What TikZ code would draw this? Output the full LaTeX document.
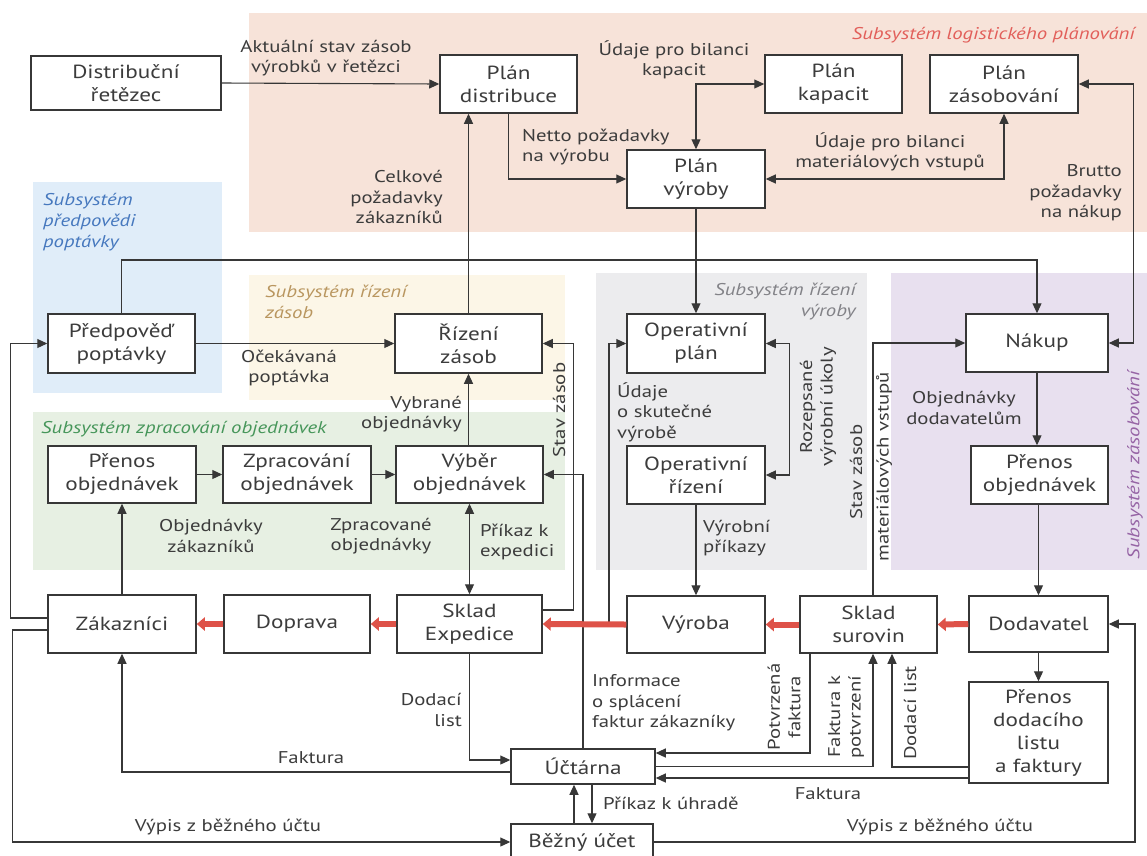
\documentclass[tikz,border=0pt]{standalone}
\usepackage{fontspec}
\setmainfont{PT Sans}[FakeStretch=1.22]
\usetikzlibrary{arrows.meta,calc}
\definecolor{salmonc}{RGB}{247,227,217}
\definecolor{bluec}{RGB}{224,237,249}
\definecolor{yellowc}{RGB}{252,246,231}
\definecolor{greenc}{RGB}{231,240,227}
\definecolor{grayc}{RGB}{236,236,238}
\definecolor{purplec}{RGB}{232,224,239}
\definecolor{linec}{RGB}{55,55,55}
\definecolor{textc}{RGB}{60,60,60}
\definecolor{redc}{RGB}{222,82,72}
\definecolor{sred}{RGB}{226,95,90}
\definecolor{sblue}{RGB}{70,120,190}
\definecolor{stan}{RGB}{185,150,95}
\definecolor{sgreen}{RGB}{70,150,90}
\definecolor{sgray}{RGB}{130,130,135}
\definecolor{spurple}{RGB}{150,100,165}
\newcommand\boxfont{\fontsize{19}{23}\selectfont}
\newcommand\lblfont{\fontsize{17}{20.5}\selectfont}
\newcommand\subfont{\fontsize{17}{21}\selectfont\itshape}
\tikzset{
  box/.style={draw=linec, fill=white, line width=1.5pt, align=center, font=\boxfont, text=textc, inner sep=0pt},
  lbl/.style={font=\lblfont, text=textc, inner sep=0pt, align=center},
  sub/.style={font=\subfont, inner sep=0pt},
  conn/.style={draw=linec, line width=1.1pt},
  arr/.style={conn, -{Triangle[length=10pt,width=9pt]}},
  darr/.style={conn, {Triangle[length=10pt,width=9pt]}-{Triangle[length=10pt,width=9pt]}},
  redarr/.style={draw=redc, line width=6pt, -{Triangle[length=8pt,width=13pt]}}
}
\begin{document}
\begin{tikzpicture}[x=1pt,y=-1pt]
\useasboundingbox (0,0) rectangle (1147,855);
\clip (0,0) rectangle (1147,855);
\fill[white] (0,0) rectangle (1147,855);
% backgrounds
\fill[salmonc] (249,13) rectangle (1147,232);
\fill[bluec] (33,182) rectangle (222,393);
\fill[yellowc] (249,275) rectangle (565,400);
\fill[greenc] (33,412) rectangle (565,570);
\fill[grayc] (596,273) rectangle (867,570);
\fill[purplec] (891,273) rectangle (1147,570);
% subsystem labels
\node[sub, text=sred, anchor=east] (s1) at (1135,35) {Subsystém logistického plánování};
\node[sub, text=sblue, anchor=west, align=left] (s2) at (43,222) {Subsystém\\předpovědi\\poptávky};
\node[sub, text=stan, anchor=west, align=left] (s3) at (265,302) {Subsystém řízení\\zásob};
\node[sub, text=sgreen, anchor=west] (s4) at (41,429) {Subsystém zpracování objednávek};
\node[sub, text=sgray, anchor=east, align=right] (s5) at (856,302) {Subsystém řízení\\výroby};
\node[sub, text=spurple, rotate=90] (s6) at (1135,465) {Subsystém zásobování};
% boxes
\node[box, minimum width=190, minimum height=54] (dist) at (126,83) {Distribuční\\řetězec};
\node[box, minimum width=137, minimum height=58] (pdist) at (508.5,84) {Plán\\distribuce};
\node[box, minimum width=137, minimum height=58] (pkap) at (833.5,84) {Plán\\kapacit};
\node[box, minimum width=148, minimum height=58] (pzas) at (1004,84) {Plán\\zásobování};
\node[box, minimum width=138, minimum height=58] (pvyr) at (696,179) {Plán\\výroby};
\node[box, minimum width=147, minimum height=59] (pred) at (121.5,343.5) {Předpověď\\poptávky};
\node[box, minimum width=147, minimum height=59] (rizz) at (468.5,343.5) {Řízení\\zásob};
\node[box, minimum width=138, minimum height=59] (opplan) at (696,343.5) {Operativní\\plán};
\node[box, minimum width=142, minimum height=58] (nakup) at (1037,343) {Nákup};
\node[box, minimum width=148, minimum height=57] (prenL) at (122,474.5) {Přenos\\objednávek};
\node[box, minimum width=148, minimum height=57] (zprac) at (297,474.5) {Zpracování\\objednávek};
\node[box, minimum width=147, minimum height=57] (vyber) at (469.5,474.5) {Výběr\\objednávek};
\node[box, minimum width=138, minimum height=58] (opriz) at (696,475) {Operativní\\řízení};
\node[box, minimum width=137, minimum height=58] (prenR) at (1039.5,475) {Přenos\\objednávek};
\node[box, minimum width=148, minimum height=58] (zak) at (122,624) {Zákazníci};
\node[box, minimum width=146, minimum height=58] (dopr) at (297,624) {Doprava};
\node[box, minimum width=145, minimum height=58] (skexp) at (469.5,624) {Sklad\\Expedice};
\node[box, minimum width=138, minimum height=57] (vyroba) at (696,624.5) {Výroba};
\node[box, minimum width=137, minimum height=57] (sksur) at (868.5,624.5) {Sklad\\surovin};
\node[box, minimum width=139, minimum height=56] (dodav) at (1038.5,624) {Dodavatel};
\node[box, minimum width=139, minimum height=101] (prendod) at (1038.5,732.5) {Přenos\\dodacího\\listu\\a faktury};
\node[box, minimum width=144, minimum height=35] (uctarna) at (583,766.5) {Účtárna};
\node[box, minimum width=142, minimum height=36] (bezny) at (582,842) {Běžný účet};
% connector helper coordinates
\coordinate (vyrL) at (609,623);
% connectors
\draw[arr] (dist.east) -- (pdist.west);
\draw[arr] (pdist.south) |- (pvyr.west);
\draw[darr] (pvyr.north) |- (pkap.west);
\draw[darr] (pvyr.east) -| (pzas.south);
\draw[darr] (pzas.east) -- ++(55,0) |- (nakup.east);
\draw[arr] (rizz.north) -- (rizz.north |- pdist.south);
\draw[arr] (pvyr.south) -- (opplan.north);
\draw[arr] (pred.north) -- (pred.north |- 0,260) -| (nakup.north);
\draw[arr] (pred.east) -- (rizz.west);
\draw[arr] (vyber.north -| rizz.south) -- (rizz.south);
\draw[arr] (prenL.east) -- (zprac.west);
\draw[arr] (zprac.east) -- (vyber.west);
\draw[arr] (zak.north) -- (prenL.south);
\draw[darr] (vyber.south) -- (skexp.north);
\draw[arr] ([yshift=14pt]skexp.east) -- ++(31,0) |- (rizz.east);
\draw[arr] (uctarna.north) |- (vyber.east);
\draw[arr] (vyrL) |- (opplan.west);
\draw[darr] (opplan.east) -- ++(24,0) |- (opriz.east);
\draw[arr] (opriz.south) -- (vyroba.north);
\draw[arr] ([xshift=4.5pt]sksur.north) |- (nakup.west);
\draw[arr] (nakup.south) -- (nakup.south |- prenR.north);
\draw[arr] (prenR.south -| dodav.north) -- (dodav.north);
\draw[arr] (dodav.south) -- (prendod.north);
\draw[redarr] (dodav.west) -- (sksur.east);
\draw[redarr] (sksur.west) -- (vyroba.east);
\draw[redarr] (vyroba.west) -- (skexp.east);
\draw[redarr] (skexp.west) -- (dopr.east);
\draw[redarr] (dopr.west) -- (zak.east);
\draw[arr] (skexp.south) |- ([yshift=6.5pt]uctarna.west);
\draw[arr] ([yshift=-5.5pt]uctarna.west) -| (zak.south);
\draw[arr] ([yshift=6pt]zak.west) -- ++(-37,0) |- (pred.west);
\draw[arr] ([yshift=-6pt]zak.west) -- ++(-35,0) |- (bezny.west);
\draw[arr] (bezny.east) -- (bezny.east -| 1135,0) |- (dodav.east);
\draw[arr] ([xshift=-8pt]bezny.north) -- ([xshift=-8pt]bezny.north |- uctarna.south);
\draw[arr] ([xshift=9pt]uctarna.south) -- ([xshift=9pt]uctarna.south |- bezny.north);
\draw[arr] ([xshift=-58.5pt]sksur.south) |- ([yshift=13.5pt]uctarna.east);
\draw[arr] (uctarna.east) -| ([xshift=4.5pt]sksur.south);
\draw[arr] ([yshift=-34.5pt]prendod.west) -| ([xshift=23.5pt]sksur.south);
\draw[arr] ([yshift=-45.5pt]prendod.west) -- (uctarna.east |- 0,778);
% labels
\node[lbl] (l1) at (326,58) {Aktuální stav zásob\\výrobků v řetězci};
\node[lbl] (l2) at (674,60) {Údaje pro bilanci\\kapacit};
\node[lbl, anchor=west, align=left] (l3) at (522,147) {Netto požadavky\\na výrobu};
\node[lbl] (l4) at (890,152) {Údaje pro bilanci\\materiálových vstupů};
\node[lbl, anchor=east, align=right] (l5) at (1122,193) {Brutto\\požadavky\\na nákup};
\node[lbl, anchor=east, align=right] (l6) at (443,197) {Celkové\\požadavky\\zákazníků};
\node[lbl] (l7) at (289,368) {Očekávaná\\poptávka};
\node[lbl, anchor=east, align=right] (l8) at (462,414) {Vybrané\\objednávky};
\node[lbl] (l9) at (211,536) {Objednávky\\zákazníků};
\node[lbl] (l10) at (381,536) {Zpracované\\objednávky};
\node[lbl, anchor=west, align=left] (l11) at (480,542) {Příkaz k\\expedici};
\node[lbl, rotate=90] (l12) at (559,410) {Stav zásob};
\node[lbl, anchor=west, align=left] (l13) at (617,412) {Údaje\\o skutečné\\výrobě};
\node[lbl, rotate=90] (l14) at (818,407) {Rozepsané\\výrobní úkoly};
\node[lbl, anchor=west, align=left] (l15) at (703,538) {Výrobní\\příkazy};
\node[lbl, rotate=90] (l16) at (856,472) {Stav zásob};
\node[lbl, rotate=90] (l17) at (884,467) {materiálových vstupů};
\node[lbl] (l18) at (964,408) {Objednávky\\dodavatelům};
\node[lbl, anchor=east, align=right] (l19) at (462,710) {Dodací\\list};
\node[lbl, anchor=west, align=left] (l20) at (592,703) {Informace\\o splácení\\faktur zákazníky};
\node[lbl, rotate=90] (l21) at (784,707) {Potvrzená\\faktura};
\node[lbl, rotate=90] (l22) at (846,717) {Faktura k\\potvrzení};
\node[lbl, rotate=90] (l23) at (910,713) {Dodací list};
\node[lbl] (l24) at (311,758) {Faktura};
\node[lbl] (l25) at (828,794) {Faktura};
\node[lbl, anchor=west] (l26) at (603,803) {Příkaz k úhradě};
\node[lbl] (l27) at (228,827) {Výpis z běžného účtu};
\node[lbl] (l28) at (940,827) {Výpis z běžného účtu};
\end{tikzpicture}
\end{document}
